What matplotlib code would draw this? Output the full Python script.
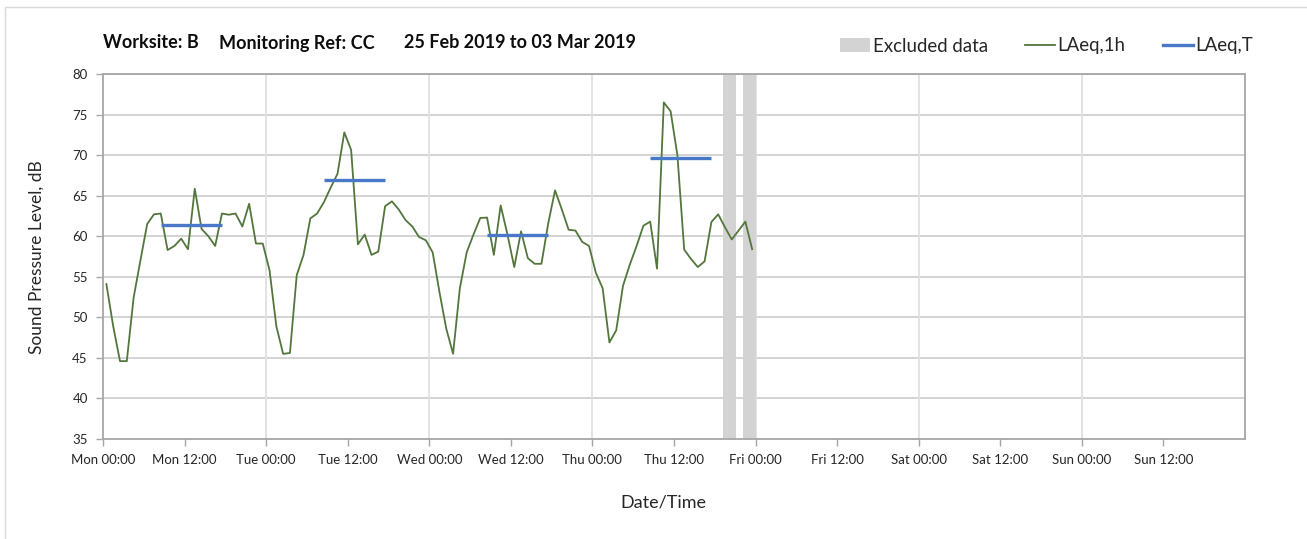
import numpy as np
import matplotlib
matplotlib.use("Agg")
import matplotlib.pyplot as plt
from matplotlib.patches import Patch, Rectangle
from matplotlib.lines import Line2D

plt.rcParams['font.family'] = ['Lato', 'DejaVu Sans']

# ---- data ----
laeq_1h = [54.1, 48.9, 44.6, 44.6, 52.4, 57.0, 61.5, 62.7, 62.8, 58.3,
           58.8, 59.7, 58.4, 65.85, 60.9, 60.0, 58.8, 62.8, 62.65, 62.8,
           61.2, 64.0, 59.1, 59.1, 55.8, 48.9, 45.5, 45.6, 55.2, 57.7,
           62.2, 62.8, 64.2, 66.0, 67.7, 72.8, 70.65, 59.0, 60.2, 57.7,
           58.1, 63.7, 64.3, 63.3, 62.0, 61.2, 59.9, 59.5, 58.0, 53.1,
           48.6, 45.5, 53.6, 58.0, 60.2, 62.25, 62.3, 57.7, 63.8, 60.2,
           56.2, 60.6, 57.3, 56.6, 56.6, 61.6, 65.65, 63.3, 60.8, 60.7,
           59.3, 58.8, 55.5, 53.6, 46.9, 48.4, 53.9, 56.5, 58.8, 61.3,
           61.8, 56.0, 76.5, 75.4, 70.0, 58.35, 57.2, 56.2, 56.9, 61.75,
           62.7, 61.1, 59.6, 60.7, 61.8, 58.4]
hours_1h = np.arange(len(laeq_1h)) + 0.5   # hour mid-points from Mon 00:00

laeq_T = [61.4, 66.9, 60.1, 69.7]
laeq_T_start = [8.5, 32.5, 56.5, 80.5]
laeq_T_end = [17.5, 41.5, 65.5, 89.5]

excluded_start = [91.2, 94.2]
excluded_end = [93.1, 96.1]

tick_hours = list(range(0, 168, 12))
tick_labels = ['Mon 00:00', 'Mon 12:00', 'Tue 00:00', 'Tue 12:00',
               'Wed 00:00', 'Wed 12:00', 'Thu 00:00', 'Thu 12:00',
               'Fri 00:00', 'Fri 12:00', 'Sat 00:00', 'Sat 12:00',
               'Sun 00:00', 'Sun 12:00']
day_hours = list(range(24, 168, 24))
y_ticks = list(range(35, 81, 5))

# ---- figure ----
W, H = 1307, 539
fig = plt.figure(figsize=(W / 100, H / 100), dpi=100)
fig.patch.set_facecolor('white')

# outer chart border
fig.add_artist(Rectangle((5 / W, -0.1), 1.2, 1 - 7 / H + 0.1, transform=fig.transFigure,
                         fill=False, edgecolor='#d9d9d9', linewidth=1.0))

ax = fig.add_axes([103 / W, 1 - 439 / H, (1245 - 103) / W, (439 - 74) / H])

green = '#52763c'
blue = '#4a78c8'
grey_band = '#d3d3d3'

for s, e in zip(excluded_start, excluded_end):
    ax.axvspan(s, e, color=grey_band, linewidth=0, zorder=1)

ax.plot(hours_1h, laeq_1h, color=green, linewidth=1.3, zorder=3)
for v, s, e in zip(laeq_T, laeq_T_start, laeq_T_end):
    ax.plot([s, e], [v, v], color=blue, linewidth=2.4, zorder=4, solid_capstyle='butt')

ax.set_xlim(0, 168)
ax.set_ylim(35, 80)
ax.set_yticks(y_ticks)
ax.set_yticklabels([str(v) for v in y_ticks])
ax.set_xticks(tick_hours)
ax.set_xticklabels(tick_labels)

for y in y_ticks[1:-1]:
    ax.axhline(y, color='#d0d0d0', linewidth=1.3, zorder=0)
ax.axhline(80, color='#c0c0c0', linewidth=1.3, zorder=0)
for x in day_hours:
    ax.axvline(x, color='#e0e0e0', linewidth=1.3, zorder=0)

for sp in ax.spines.values():
    sp.set_color('#a6a6a6')
    sp.set_linewidth(1.3)

ax.tick_params(axis='both', direction='out', length=5, width=1.0, color='#a6a6a6',
               labelsize=9.5, labelcolor='#262626')
ax.tick_params(axis='x', pad=6)
ax.tick_params(axis='y', pad=6)

# axis titles
fig.text(37 / W, 1 - 257 / H, 'Sound Pressure Level, dB', fontsize=12.5, color='#262626',
         rotation=90, ha='center', va='center')
fig.text(663 / W, 1 - 503 / H, 'Date/Time', fontsize=13, color='#262626',
         ha='center', va='center')

# title pieces
ty = 1 - 43 / H
tkw = dict(fontsize=13, fontweight='bold', va='center', ha='left', color='#0d0d0d')
fig.text(103 / W, ty, 'Worksite: B', **tkw)
fig.text(219 / W, ty, 'Monitoring Ref: CC', **tkw)
fig.text(404 / W, ty, '25 Feb 2019 to 03 Mar 2019', **tkw)

handles = [Patch(facecolor=grey_band, edgecolor='none'),
           Line2D([], [], color=green, linewidth=1.3),
           Line2D([], [], color=blue, linewidth=2.4)]
labels = ['Excluded data', 'LAeq,1h', 'LAeq,T']
leg = fig.legend(handles, labels, ncol=3, loc='center right',
                 bbox_to_anchor=(1270 / W, 1 - 46 / H), frameon=False,
                 fontsize=13.4, handlelength=1.6, handletextpad=0.15,
                 columnspacing=2.0, labelcolor='#262626')

fig.savefig('out.png', dpi=100, facecolor='white')
